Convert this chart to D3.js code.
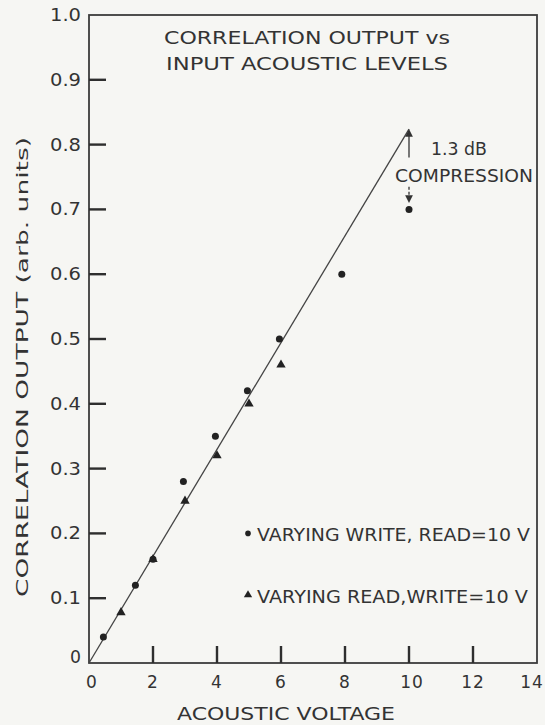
<!DOCTYPE html>
<html>
<head>
<meta charset="utf-8">
<script src="https://cdn.jsdelivr.net/npm/d3@7"></script>
<style>
  body { margin: 0; background: #f6f6f3; }
  svg text { font-family: 'DejaVu Sans', sans-serif; fill: #333; }
</style>
</head>
<body>
<svg id="chart" width="545" height="725"></svg>
<script>
// values
const xTicks = [0, 2, 4, 6, 8, 10, 12, 14]
const yTicks = [0, 0.1, 0.2, 0.3, 0.4, 0.5, 0.6, 0.7, 0.8, 0.9, 1.0]
const yTickLabels = ['0', '0.1', '0.2', '0.3', '0.4', '0.5', '0.6', '0.7', '0.8', '0.9', '1.0']

// varying write, read = 10 V (dots)
const writeVolts = [0.45, 1.45, 2.0, 2.95, 3.95, 4.95, 5.95, 7.9, 10.0]
const writeOutput = [0.04, 0.12, 0.16, 0.28, 0.35, 0.42, 0.50, 0.60, 0.70]

// varying read, write = 10 V (triangles)
const readVolts = [1.0, 2.0, 3.0, 4.0, 5.0, 6.0]
const readOutput = [0.078, 0.16, 0.25, 0.32, 0.40, 0.46]

// straight line through the low level points
const fitVolts = [0, 10.0]
const fitOutput = [0, 0.824]

const titleLines = ['CORRELATION OUTPUT vs', 'INPUT ACOUSTIC LEVELS']
const legendLabels = ['VARYING WRITE, READ=10 V', 'VARYING READ,WRITE=10 V']

const svg = d3.select('#chart')

const x = d3.scaleLinear().domain([0, 14]).range([89, 537])
const y = d3.scaleLinear().domain([0, 1]).range([663, 15])

// frame
svg.append('rect')
  .attr('x', x(0)).attr('y', y(1))
  .attr('width', x(14) - x(0)).attr('height', y(0) - y(1))
  .attr('fill', 'none').attr('stroke', '#3c3c3c').attr('stroke-width', 1.8)

// inward ticks, drawn as thin filled rects
const tickLen = 17
svg.append('g').selectAll('rect').data(xTicks.slice(1, -1)).join('rect')
  .attr('x', d => x(d) - 1.2).attr('y', y(0) - tickLen)
  .attr('width', 2.4).attr('height', tickLen)
  .attr('fill', '#2e2e2e')
svg.append('g').selectAll('rect').data(yTicks.slice(1, -1)).join('rect')
  .attr('x', x(0)).attr('y', d => y(d) - 1.2)
  .attr('width', tickLen).attr('height', 2.4)
  .attr('fill', '#2e2e2e')

// tick labels
svg.append('g').selectAll('text').data(xTicks).join('text')
  .attr('x', d => x(d) + (d === 0 ? 3 : d === 10 ? 3 : d === 14 ? -5 : 0))
  .attr('y', 688)
  .attr('text-anchor', 'middle')
  .attr('font-size', 17)
  .attr('letter-spacing', 1)
  .text(d => d)

svg.append('g').selectAll('text').data(yTicks).join('text')
  .attr('x', 81)
  .attr('y', (d, i) => y(d) + (i === 0 ? 0 : 6))
  .attr('text-anchor', 'end')
  .attr('font-size', 17)
  .attr('textLength', (d, i) => i === 0 ? 11 : 31)
  .attr('lengthAdjust', 'spacingAndGlyphs')
  .text((d, i) => yTickLabels[i])

// axis titles
svg.append('text')
  .attr('x', 286).attr('y', 720)
  .attr('text-anchor', 'middle')
  .attr('font-size', 17)
  .attr('textLength', 218).attr('lengthAdjust', 'spacingAndGlyphs')
  .text('ACOUSTIC VOLTAGE')

svg.append('text')
  .attr('transform', 'translate(28,367) rotate(-90)')
  .attr('text-anchor', 'middle')
  .attr('font-size', 16)
  .attr('textLength', 460).attr('lengthAdjust', 'spacingAndGlyphs')
  .text('CORRELATION OUTPUT (arb. units)')

// chart title inside the frame
svg.append('g').selectAll('text').data(titleLines).join('text')
  .attr('x', 307)
  .attr('y', (d, i) => 44 + i * 26)
  .attr('text-anchor', 'middle')
  .attr('font-size', 17)
  .attr('textLength', (d, i) => i === 0 ? 286 : 282).attr('lengthAdjust', 'spacingAndGlyphs')
  .text(d => d)

// fitted line
const fit = d3.line().x(d => x(d[0])).y(d => y(d[1]))
svg.append('path')
  .datum(d3.zip(fitVolts, fitOutput))
  .attr('d', fit)
  .attr('fill', 'none').attr('stroke', '#444').attr('stroke-width', 1.3)

// data points
svg.append('g').selectAll('circle').data(d3.zip(writeVolts, writeOutput)).join('circle')
  .attr('cx', d => x(d[0])).attr('cy', d => y(d[1]))
  .attr('r', 3.5).attr('fill', '#222')

const tri = d3.symbol().type(d3.symbolTriangle).size(38)
svg.append('g').selectAll('path').data(d3.zip(readVolts, readOutput)).join('path')
  .attr('transform', d => `translate(${x(d[0])},${y(d[1])})`)
  .attr('d', tri).attr('fill', '#222')

// legend
const legendY = [y(0.2), y(0.105)]
svg.append('circle').attr('cx', 248).attr('cy', legendY[0]).attr('r', 2.8).attr('fill', '#222')
svg.append('path').attr('transform', `translate(248,${legendY[1]})`)
  .attr('d', d3.symbol().type(d3.symbolTriangle).size(30)).attr('fill', '#222')
svg.append('g').selectAll('text').data(legendLabels).join('text')
  .attr('x', 257)
  .attr('y', (d, i) => legendY[i] + 8)
  .attr('font-size', 17)
  .attr('textLength', (d, i) => i === 0 ? 273 : 271).attr('lengthAdjust', 'spacingAndGlyphs')
  .text(d => d)

// 1.3 dB compression note
const ax = x(10)
const marker = svg.append('defs').append('marker')
  .attr('id', 'head').attr('viewBox', '0 0 10 10').attr('refX', 5).attr('refY', 5)
  .attr('markerWidth', 6).attr('markerHeight', 7).attr('orient', 'auto-start-reverse')
marker.append('path').attr('d', 'M0,0 L10,5 L0,10 Z').attr('fill', '#333')

svg.append('line')
  .attr('x1', ax).attr('x2', ax).attr('y1', y(0.78)).attr('y2', y(0.818))
  .attr('stroke', '#333').attr('stroke-width', 1.3).attr('marker-end', 'url(#head)')
svg.append('line')
  .attr('x1', ax).attr('x2', ax).attr('y1', y(0.735)).attr('y2', y(0.716))
  .attr('stroke', '#333').attr('stroke-width', 1.3).attr('stroke-dasharray', '3,2')
  .attr('marker-end', 'url(#head)')

svg.append('text')
  .attr('x', 431).attr('y', 155)
  .attr('font-size', 17)
  .attr('textLength', 56).attr('lengthAdjust', 'spacingAndGlyphs')
  .text('1.3 dB')
svg.append('text')
  .attr('x', 395).attr('y', 182)
  .attr('font-size', 17)
  .attr('textLength', 138).attr('lengthAdjust', 'spacingAndGlyphs')
  .text('COMPRESSION')
</script>
</body>
</html>
